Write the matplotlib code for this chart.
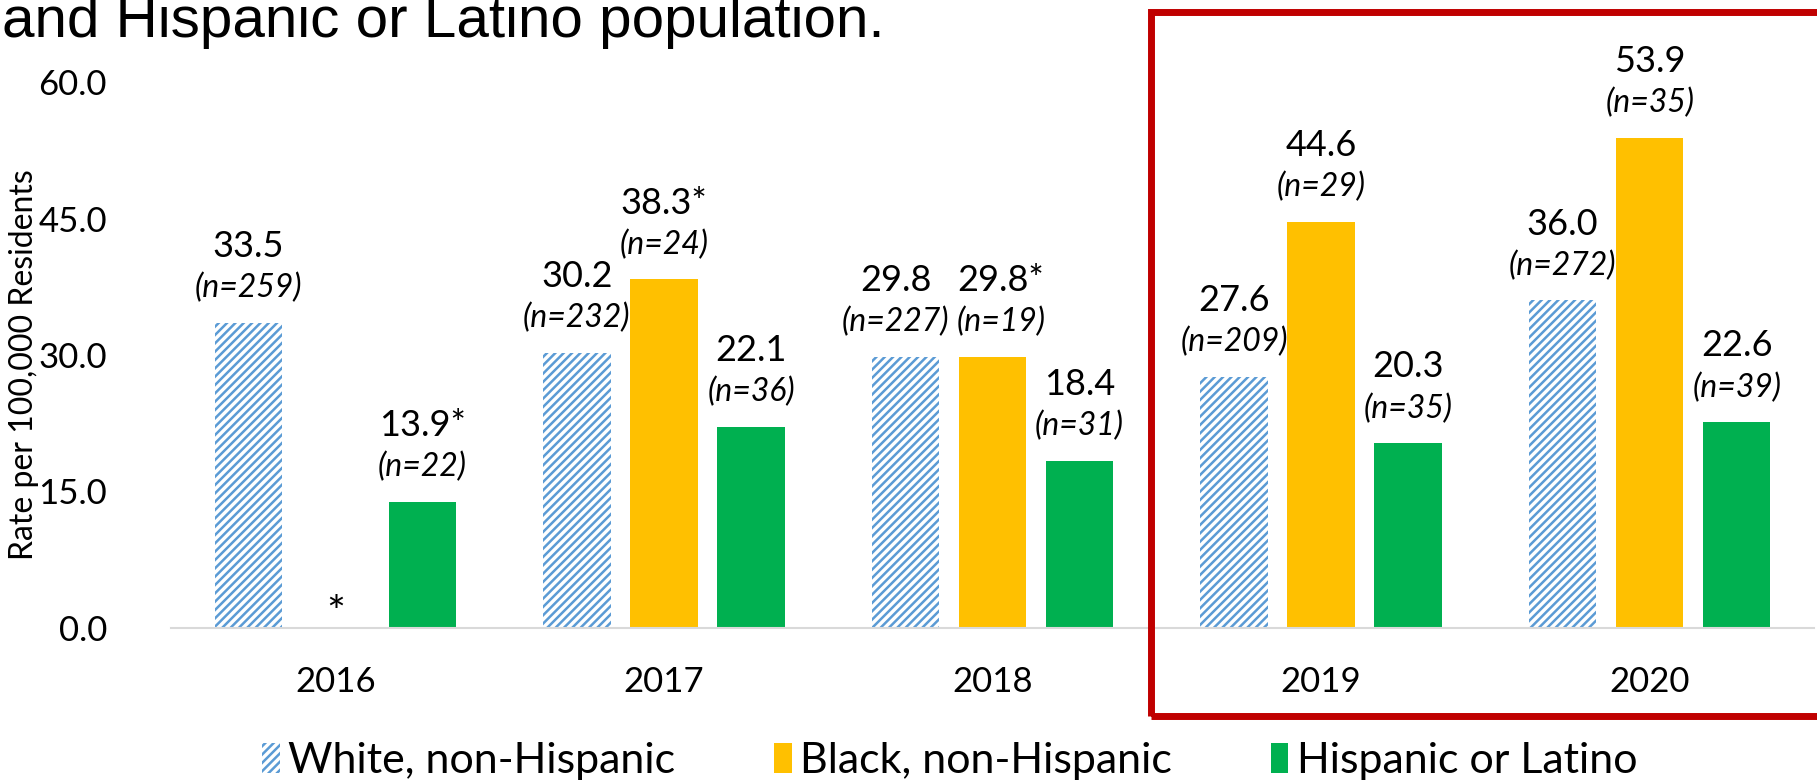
import matplotlib
matplotlib.use("Agg")
import matplotlib.pyplot as plt
from matplotlib.patches import Rectangle, Patch
import numpy as np

# data
years = ["2016", "2017", "2018", "2019", "2020"]
series_names = ["White, non-Hispanic", "Black, non-Hispanic", "Hispanic or Latino"]
white_vals = [33.5, 30.2, 29.8, 27.6, 36.0]
black_vals = [None, 38.3, 29.8, 44.6, 53.9]
hisp_vals = [13.9, 22.1, 18.4, 20.3, 22.6]
white_labels = ["33.5", "30.2", "29.8", "27.6", "36.0"]
black_labels = ["*", "38.3*", "29.8*", "44.6", "53.9"]
hisp_labels = ["13.9*", "22.1", "18.4", "20.3", "22.6"]
white_n = ["(n=259)", "(n=232)", "(n=227)", "(n=209)", "(n=272)"]
black_n = ["", "(n=24)", "(n=19)", "(n=29)", "(n=35)"]
hisp_n = ["(n=22)", "(n=36)", "(n=31)", "(n=35)", "(n=39)"]
yticks = [0, 15, 30, 45, 60]

plt.rcParams["font.family"] = ["Lato", "DejaVu Sans"]
plt.rcParams["hatch.linewidth"] = 1.8

W, H = 1817, 781
fig = plt.figure(figsize=(W / 100, H / 100), dpi=100)
ax = fig.add_axes([171 / W, (H - 628) / H, (1814 - 171) / W, (628 - 82) / H])

x = np.arange(len(years))
off = 0.265
bw = 0.205
blue = "#5B9BD5"
yellow = "#FFC000"
green = "#00B050"

ax.bar(x - off, white_vals, bw, color="white", edgecolor=blue, hatch="////", linewidth=0)
bx = [xi for xi, v in zip(x, black_vals) if v is not None]
bv = [v for v in black_vals if v is not None]
ax.bar(np.array(bx), bv, bw, color=yellow, linewidth=0)
ax.bar(x + off, hisp_vals, bw, color=green, linewidth=0)

# labels in 2018 were nudged apart in the original so they don't collide
nudge = {(0, 2): -7, (1, 2): 6}

# data labels: value on top, (n=..) italic just under it
groups = [(x - off, white_vals, white_labels, white_n),
          (x, black_vals, black_labels, black_n),
          (x + off, hisp_vals, hisp_labels, hisp_n)]
for gi, (xs, vals, labs, ns) in enumerate(groups):
    for i, (xi, v, lab, n) in enumerate(zip(xs, vals, labs, ns)):
        dx = nudge.get((gi, i), 0)
        if v is None:
            ax.annotate(lab, (xi, 0), xytext=(0, 10), textcoords="offset points",
                        ha="center", va="center", fontsize=32)
            continue
        ax.annotate(n, (xi, v), xytext=(dx, 25), textcoords="offset points",
                    ha="center", va="center", fontsize=23, style="italic")
        ax.annotate(lab, (xi, v), xytext=(dx, 55), textcoords="offset points",
                    ha="center", va="center", fontsize=26)

ax.set_xlim(-0.5, 4.5)
ax.set_ylim(0, 60)
ax.set_yticks(yticks)
ax.set_yticklabels([f"{t:.1f}" for t in yticks], fontsize=25)
ax.set_xticks(x)
ax.set_xticklabels(years, fontsize=25)
ax.tick_params(axis="y", length=0, pad=46)
ax.tick_params(axis="x", length=0, pad=27)
for s in ["top", "right", "left"]:
    ax.spines[s].set_visible(False)
ax.spines["bottom"].set_color("#D9D9D9")
ax.spines["bottom"].set_linewidth(1.5)

fig.text(24 / W, (H - 365) / H, "Rate per 100,000 Residents", rotation=90,
         ha="center", va="center", fontsize=23)

# clipped title line from the slide
fig.text(2 / W, (H - 37) / H, "and Hispanic or Latino population.",
         fontsize=42, family="Liberation Sans", va="baseline", ha="left")

# highlight box around 2019-2020
fig.add_artist(Rectangle((1151 / W, (H - 716) / H), 700 / W, (716 - 12) / H,
                         transform=fig.transFigure, fill=False,
                         edgecolor="#C00000", linewidth=5))

handles = [Patch(facecolor="white", edgecolor=blue, hatch="////", linewidth=0),
           Patch(facecolor=yellow, linewidth=0),
           Patch(facecolor=green, linewidth=0)]
fig.legend(handles, series_names, loc="center", bbox_to_anchor=(950 / W, (H - 761) / H),
           ncol=3, frameon=False, fontsize=31, handlelength=0.4, handleheight=0.7,
           handletextpad=0.2, columnspacing=2.3)

fig.savefig("out.png", dpi=100)
